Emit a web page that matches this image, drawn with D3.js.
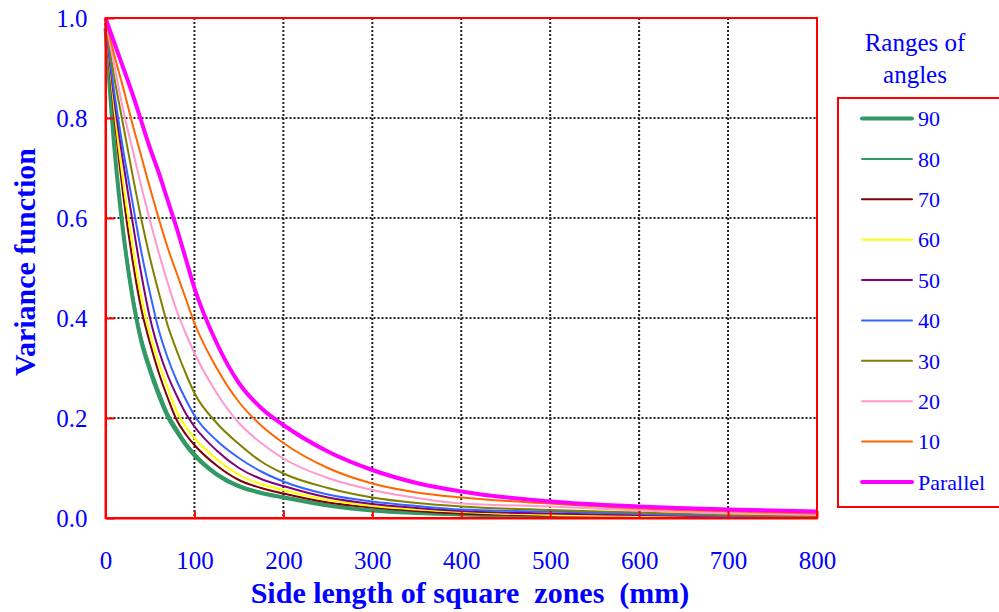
<!DOCTYPE html>
<html>
<head>
<meta charset="utf-8">
<script src="https://cdn.jsdelivr.net/npm/d3@7"></script>
<style>
  body { margin: 0; background: #fff; }
  text { font-family: "Liberation Serif", "Times New Roman", serif; fill: #0000ff; }
</style>
</head>
<body>
<div id="chart"></div>
<script>
// Side length of square zones (mm)
var sides = [0, 10, 20, 30, 40, 50, 60, 70, 80, 90, 100, 125, 150, 175, 200, 250, 300, 350, 400, 500, 600, 700, 800];

// Variance function, one array per range of angles
var v90 = [0.98, 0.74, 0.57, 0.445, 0.355, 0.295, 0.245, 0.203, 0.173, 0.147, 0.125, 0.087, 0.063, 0.05, 0.041, 0.025, 0.015, 0.01, 0.007, 0.004, 0.002, 0.002, 0.002];
var v80 = [0.99, 0.75, 0.58, 0.455, 0.365, 0.305, 0.255, 0.21, 0.18, 0.152, 0.13, 0.09, 0.066, 0.052, 0.043, 0.026, 0.016, 0.011, 0.008, 0.005, 0.003, 0.002, 0.002];
var v70 = [0.99, 0.80, 0.645, 0.52, 0.42, 0.35, 0.29, 0.24, 0.196, 0.168, 0.146, 0.105, 0.076, 0.06, 0.049, 0.031, 0.021, 0.014, 0.009, 0.005, 0.003, 0.002, 0.002];
var v60 = [0.99, 0.815, 0.67, 0.55, 0.445, 0.37, 0.31, 0.26, 0.213, 0.183, 0.16, 0.118, 0.086, 0.068, 0.056, 0.036, 0.024, 0.017, 0.012, 0.006, 0.004, 0.003, 0.002];
var v50 = [0.99, 0.835, 0.71, 0.597, 0.49, 0.40, 0.335, 0.285, 0.245, 0.21, 0.183, 0.135, 0.10, 0.078, 0.064, 0.041, 0.028, 0.02, 0.014, 0.009, 0.006, 0.003, 0.002];
var v40 = [0.99, 0.85, 0.735, 0.635, 0.535, 0.45, 0.375, 0.32, 0.275, 0.238, 0.205, 0.155, 0.12, 0.093, 0.073, 0.047, 0.033, 0.024, 0.017, 0.013, 0.008, 0.004, 0.003];
var v30 = [0.99, 0.88, 0.785, 0.69, 0.60, 0.52, 0.45, 0.385, 0.335, 0.29, 0.25, 0.19, 0.148, 0.113, 0.089, 0.06, 0.041, 0.03, 0.023, 0.016, 0.011, 0.006, 0.004];
var v20 = [0.995, 0.905, 0.815, 0.74, 0.665, 0.595, 0.53, 0.47, 0.415, 0.37, 0.33, 0.25, 0.19, 0.15, 0.119, 0.08, 0.056, 0.04, 0.029, 0.023, 0.015, 0.009, 0.006];
var v10 = [1.0, 0.925, 0.86, 0.79, 0.725, 0.66, 0.598, 0.54, 0.49, 0.44, 0.39, 0.30, 0.232, 0.185, 0.15, 0.10, 0.069, 0.051, 0.041, 0.029, 0.019, 0.013, 0.009];
var vPar = [1.0, 0.95, 0.9, 0.85, 0.795, 0.74, 0.69, 0.635, 0.58, 0.52, 0.46, 0.35, 0.27, 0.22, 0.186, 0.133, 0.096, 0.07, 0.053, 0.033, 0.023, 0.017, 0.013];

var seriesNames = ["90", "80", "70", "60", "50", "40", "30", "20", "10", "Parallel"];
var seriesValues = [v90, v80, v70, v60, v50, v40, v30, v20, v10, vPar];
var seriesColors = ["#339966", "#339966", "#800000", "#ffff00", "#800080", "#3366ff", "#808000", "#ff99cc", "#ff6600", "#ff00ff"];
var seriesWidths = [4, 2, 2, 2, 2, 2, 2, 2, 2, 4];

var xTicks = [0, 100, 200, 300, 400, 500, 600, 700, 800];
var yTicks = [0, 0.2, 0.4, 0.6, 0.8, 1.0];

var svgWidth = 999;
var svgHeight = 612;
var margin = { top: 18, left: 105.5, right: 182, bottom: 94 };
var chartWidth = svgWidth - margin.left - margin.right;
var chartHeight = svgHeight - margin.top - margin.bottom;

var svg = d3.select("#chart")
  .append("svg")
  .attr("width", svgWidth)
  .attr("height", svgHeight);

var chartGroup = svg.append("g")
  .attr("transform", `translate(${margin.left}, ${margin.top})`);

var xScale = d3.scaleLinear().domain([0, 800]).range([0, chartWidth]);
var yScale = d3.scaleLinear().domain([0, 1]).range([chartHeight, 0]);

// dotted grid
chartGroup.selectAll(".vgrid")
  .data(xTicks.slice(1, -1))
  .enter()
  .append("line")
  .attr("x1", d => xScale(d)).attr("x2", d => xScale(d))
  .attr("y1", 0).attr("y2", chartHeight)
  .attr("stroke", "#222").attr("stroke-width", 2).attr("stroke-dasharray", "2,2");

chartGroup.selectAll(".hgrid")
  .data(yTicks.slice(1, -1))
  .enter()
  .append("line")
  .attr("x1", 0).attr("x2", chartWidth)
  .attr("y1", d => yScale(d)).attr("y2", d => yScale(d))
  .attr("stroke", "#222").attr("stroke-width", 2).attr("stroke-dasharray", "2,2");

// lines
var line = d3.line()
  .x(d => xScale(d[0]))
  .y(d => yScale(d[1]))
  .curve(d3.curveMonotoneX);

seriesValues.forEach(function(vals, i) {
  chartGroup.append("path")
    .datum(sides.map((s, j) => [s, vals[j]]))
    .attr("fill", "none")
    .attr("stroke", seriesColors[i])
    .attr("stroke-width", seriesWidths[i])
    .attr("stroke-linejoin", "round")
    .attr("d", line);
});

// frame
chartGroup.append("rect")
  .attr("width", chartWidth).attr("height", chartHeight)
  .attr("fill", "none").attr("stroke", "#ff0000").attr("stroke-width", 2);

// axes
var bottomAxis = d3.axisBottom(xScale).tickValues(xTicks).tickSizeInner(-7).tickSizeOuter(0).tickPadding(33);
var leftAxis = d3.axisLeft(yScale).tickValues(yTicks).tickFormat(d3.format(".1f")).tickSizeInner(-9).tickSizeOuter(0).tickPadding(18);

var xAxisG = chartGroup.append("g")
  .attr("transform", `translate(0, ${chartHeight})`)
  .call(bottomAxis);
var yAxisG = chartGroup.append("g").call(leftAxis);

[xAxisG, yAxisG].forEach(function(g) {
  g.select(".domain").attr("stroke", "#ff0000").attr("stroke-width", 2);
  g.selectAll(".tick line").attr("stroke", "#ff0000").attr("stroke-width", 2);
  g.selectAll(".tick text")
    .attr("font-family", "Liberation Serif")
    .attr("font-size", "25px")
    .attr("fill", "#0000ff");
});

// axis titles
svg.append("text")
  .attr("x", 470)
  .attr("y", 603)
  .attr("text-anchor", "middle")
  .attr("font-size", "30px")
  .attr("font-weight", "bold")
  .style("white-space", "pre")
  .text("Side length of square  zones  (mm)");

svg.append("text")
  .attr("transform", "translate(35, 262) rotate(-90)")
  .attr("text-anchor", "middle")
  .attr("font-size", "30px")
  .attr("font-weight", "bold")
  .text("Variance function");

// legend
svg.append("text")
  .attr("x", 915).attr("y", 51)
  .attr("text-anchor", "middle")
  .attr("font-size", "25px")
  .text("Ranges of");
svg.append("text")
  .attr("x", 915).attr("y", 83)
  .attr("text-anchor", "middle")
  .attr("font-size", "25px")
  .text("angles");

svg.append("rect")
  .attr("x", 838).attr("y", 98)
  .attr("width", 170).attr("height", 409)
  .attr("fill", "none").attr("stroke", "#ff0000").attr("stroke-width", 2);

var legendY = d3.scalePoint().domain(seriesNames).range([118.5, 482]);

var legendRows = svg.selectAll(".legend-row")
  .data(seriesNames)
  .enter()
  .append("g")
  .attr("transform", d => `translate(0, ${legendY(d)})`);

legendRows.append("line")
  .attr("x1", 862).attr("x2", 912)
  .attr("stroke", (d, i) => seriesColors[i])
  .attr("stroke-width", (d, i) => seriesWidths[i])
  .attr("stroke-linecap", "round");

legendRows.append("text")
  .attr("x", 918)
  .attr("dy", "0.35em")
  .attr("font-size", "22px")
  .text(d => d);
</script>
</body>
</html>
